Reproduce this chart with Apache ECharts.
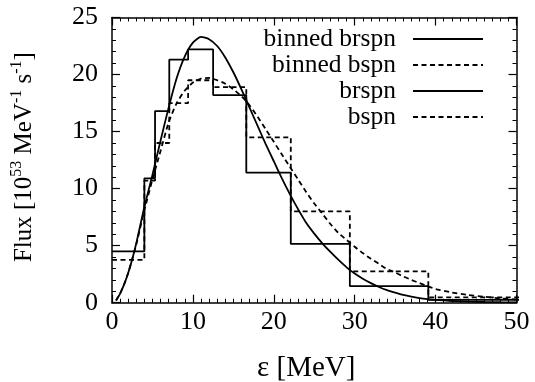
<!DOCTYPE html>
<html><head><meta charset="utf-8">
<script src="https://cdn.jsdelivr.net/npm/echarts@6/dist/echarts.min.js"></script>
<style>html,body{margin:0;padding:0;background:#fff}#c{width:535px;height:382px}</style>
</head><body><div id="c"></div>
<script>
// Bin edges (MeV) and binned fluxes
const binEdges = [0, 4, 5.32, 7.08, 9.41, 12.5, 16.6, 22.1, 29.4, 39.1, 52];
const binnedBrspn = [4.5, 10.9, 16.8, 21.3, 22.2, 18.2, 11.4, 5.15, 1.46, 0.25];
const binnedBspn = [3.75, 10.7, 14.0, 17.5, 19.5, 18.9, 14.5, 8.0, 2.75, 0.47];

// Continuous spectra
const curveE = [0.5,1,1.5,2,2.5,3,3.5,4,5,6,7,8,9,10,11,12,13,14,15,16,17,18,19,20,21,22,23,24,25,26,27,28,29,30,31,32,33,34,35,36,37,38,39,40,42,44,46,48,50];
const brspn = [0.2,0.8,1.6,2.6,3.8,5.2,6.8,8.4,11.2,14.2,17.1,19.7,21.6,22.8,23.3,23.1,22.5,21.5,20.2,18.7,17.1,15.5,13.9,12.4,10.9,9.5,8.2,7.0,6.05,5.2,4.45,3.75,3.1,2.55,2.1,1.72,1.38,1.1,0.88,0.68,0.53,0.41,0.32,0.25,0.15,0.09,0.06,0.04,0.03];
const bspn = [0.2,0.8,1.6,2.6,3.8,5.1,6.6,8.1,10.8,13.3,15.8,17.5,18.6,19.3,19.65,19.7,19.5,19.2,18.7,18.1,17.3,16.3,15.2,14.1,13.0,11.9,10.8,9.7,8.7,7.8,6.9,6.1,5.5,4.9,4.35,3.85,3.4,2.95,2.65,2.3,2.0,1.72,1.45,1.2,0.9,0.68,0.52,0.38,0.28];

const seriesNames = ['binned brspn', 'binned bspn', 'brspn', 'bspn'];
const xTickInterval = 10, yTickInterval = 5;

function stepData(edges, vals) {
  const d = vals.map((v, i) => [edges[i], v]);
  d.push([edges[edges.length - 1], vals[vals.length - 1]]);
  return d;
}
function pairs(xs, ys) { return xs.map((x, i) => [x, ys[i]]); }

const FONT = 'Liberation Serif';
const black = '#000';
const dash = [5, 3.5];

function axisBase(extra) {
  return Object.assign({
    type: 'value',
    axisLine: { show: true, onZero: false, lineStyle: { color: black, width: 1.5 } },
    axisTick: { show: true, inside: true, length: 8, lineStyle: { color: black, width: 1.2 } },
    splitLine: { show: false },
    nameMoveOverlap: false
  }, extra);
}

const chart = echarts.init(document.getElementById('c'), null, { renderer: 'canvas' });
chart.setOption({
  animation: false,
  backgroundColor: '#fff',
  grid: { left: 112, right: 18.5, top: 17.5, bottom: 79.3, containLabel: false, outerBoundsMode: 'none' },
  xAxis: [
    axisBase({
      min: 0, max: 50, interval: xTickInterval, position: 'bottom',
      minorTick: { show: true, splitNumber: 10, length: 4, lineStyle: { color: black, width: 1 } },
      axisLabel: { color: black, fontFamily: FONT, fontSize: 26, margin: 6 },
      name: 'ε [MeV]', nameLocation: 'middle', nameGap: 51,
      nameTextStyle: { color: black, fontFamily: FONT, fontSize: 29, padding: [0, 16, 0, 0] }
    }),
    axisBase({
      min: 0, max: 50, interval: xTickInterval, position: 'top',
      minorTick: { show: true, splitNumber: 10, length: 4, lineStyle: { color: black, width: 1 } },
      axisLabel: { show: false }
    })
  ],
  yAxis: [
    axisBase({
      min: 0, max: 25, interval: yTickInterval, position: 'left',
      minorTick: { show: true, splitNumber: 5, length: 4, lineStyle: { color: black, width: 1 } },
      axisLabel: { color: black, fontFamily: FONT, fontSize: 26, margin: 14 },
      name: 'Flux [10{sup|53} MeV{sup|-1} s{sup|-1}]', nameLocation: 'middle', nameRotate: 90, nameGap: 73,
      nameTextStyle: {
        color: black, fontFamily: FONT, fontSize: 25, lineHeight: 30, padding: [0, 0, 0, 6],
        rich: { sup: { color: black, fontFamily: FONT, fontSize: 16, verticalAlign: 'top', lineHeight: 30 } }
      }
    }),
    axisBase({
      min: 0, max: 25, interval: yTickInterval, position: 'right',
      minorTick: { show: true, splitNumber: 5, length: 4, lineStyle: { color: black, width: 1 } },
      axisLabel: { show: false }
    })
  ],
  legend: {
    orient: 'vertical', align: 'right', right: 51, top: 26, padding: 0, itemGap: 0,
    itemWidth: 70, itemHeight: 14,
    itemStyle: { opacity: 0 },
    textStyle: { color: black, fontFamily: FONT, fontSize: 25.5, lineHeight: 26, padding: [0, 12, 0, 0] },
    data: seriesNames
  },
  series: [
    { name: seriesNames[0], type: 'line', step: 'end', symbol: 'none', data: stepData(binEdges, binnedBrspn),
      lineStyle: { color: black, width: 1.8, type: 'solid' }, itemStyle: { color: black }, clip: true },
    { name: seriesNames[1], type: 'line', step: 'end', symbol: 'none', data: stepData(binEdges, binnedBspn),
      lineStyle: { color: black, width: 1.8, type: dash }, itemStyle: { color: black }, clip: true },
    { name: seriesNames[2], type: 'line', symbol: 'none', smooth: 0.2, data: pairs(curveE, brspn),
      lineStyle: { color: black, width: 1.8, type: 'solid' }, itemStyle: { color: black }, clip: true },
    { name: seriesNames[3], type: 'line', symbol: 'none', smooth: 0.2, data: pairs(curveE, bspn),
      lineStyle: { color: black, width: 1.8, type: dash }, itemStyle: { color: black }, clip: true }
  ]
});
</script></body></html>
